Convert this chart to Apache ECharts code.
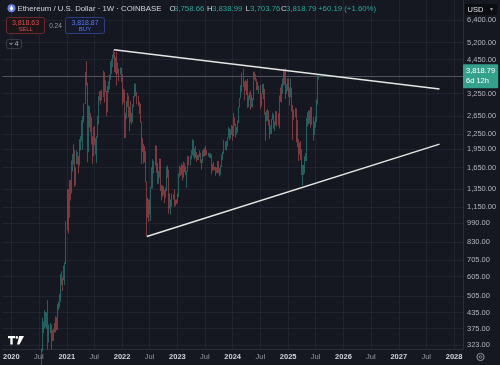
<!DOCTYPE html>
<html><head><meta charset="utf-8">
<script src="https://cdn.jsdelivr.net/npm/echarts@6/dist/echarts.min.js"></script>
<style>html,body{margin:0;padding:0;background:#161821;}#c{width:500px;height:365px;}</style>
</head><body><div id="c"></div>
<script>
// Weekly ETH/USD candles, each row [open, high, low, close], first week starts Mon 2020-06-29
const firstWeek = [2020, 5, 29];
const eth2020 = [
[225,245,223,242],[242,250,236,239],[239,243,229,236],[236,312,235,311],[311,415,305,372],
[372,400,360,394],[394,445,376,433],[433,438,380,388],[388,435,375,428],[428,488,310,353],
[353,390,330,366],[366,395,360,385],[385,390,310,355],[355,370,335,352],[352,375,335,370],
[370,395,363,368],[368,420,362,410],[410,417,370,385],[385,470,370,455],[455,480,445,460],
[460,515,455,510],[510,620,480,590],[590,635,560,595],[595,600,530,590],[590,670,585,640],
[640,690,560,685],[685,1010,680,975]];
const eth2021 = [
[975,1350,925,1265],[1265,1350,900,1230],[1230,1470,1040,1390],[1390,1470,1220,1310],
[1310,1760,1300,1610],[1610,1870,1590,1780],[1780,2040,1700,1935],[1935,1935,1380,1420],
[1420,1650,1400,1720],[1720,1930,1700,1800],[1800,1900,1700,1780],[1780,1830,1560,1690],[1690,2140,1680,2080],
[2080,2200,1930,2140],[2140,2550,2100,2240],[2240,2650,1940,2540],[2540,2980,2500,2950],
[2950,3980,2950,3920],[3920,4380,3500,3590],[3590,3600,1730,2100],[2100,2920,1900,2430],[2430,2900,2380,2710],
[2710,2720,2280,2510],[2510,2620,2040,2160],[2160,2200,1700,1830],[1830,2400,1830,2320],
[2320,2410,2030,2140],[2140,2160,1860,1900],[1900,2200,1720,2190],[2190,2640,2170,2560],
[2560,3180,2450,3160],[3160,3330,3050,3310],[3310,3330,2940,3240],[3240,3370,3060,3230],[3230,4020,3150,3940],
[3940,3960,3000,3410],[3410,3680,3300,3330],[3330,3340,2650,2930],[2930,3490,2740,3390],
[3390,3650,3290,3410],[3410,3880,3390,3850],[3850,4370,3690,4090],[4090,4460,3900,4290],
[4290,4660,4150,4610],[4610,4870,4500,4650],[4650,4770,3970,4240],[4240,4550,3920,4290],[4290,4780,3500,4120],
[4120,4330,3900,4080],[4080,4100,3640,3930],[3930,4140,3880,4070],[4070,4120,3620,3830]];
const eth2022 = [
[3830,3900,2930,3080],[3080,3410,3000,3330],[3330,3360,2160,2410],[2410,2730,2160,2600],[2600,3040,2580,3020],
[3020,3280,2870,2880],[2880,3200,2620,2620],[2620,2890,2300,2620],[2620,3040,2500,2550],
[2550,2730,2450,2570],[2570,2950,2500,2940],[2940,3180,2870,3140],[3140,3580,3140,3520],
[3520,3560,3180,3260],[3260,3310,2950,3060],[3060,3190,2900,2920],[2920,3020,2700,2830],
[2830,2960,2500,2520],[2520,2520,1700,2060],[2060,2160,1900,2050],[2050,2050,1710,1810],[1810,2010,1730,1800],
[1800,1920,1440,1450],[1450,1450,880,1130],[1130,1250,1040,1200],[1200,1230,1000,1070],
[1070,1230,1070,1170],[1170,1380,1010,1360],[1360,1650,1360,1550],[1550,1780,1360,1680],
[1680,1750,1560,1700],[1700,2030,1680,1980],[1980,2010,1570,1580],[1580,1720,1420,1430],[1430,1600,1420,1580],
[1580,1790,1500,1760],[1760,1790,1330,1340],[1340,1400,1220,1290],[1290,1400,1260,1280],
[1280,1390,1280,1320],[1320,1340,1190,1280],[1280,1370,1250,1360],[1360,1660,1330,1590],[1590,1680,1500,1610],
[1610,1620,1080,1220],[1220,1300,1130,1140],[1140,1230,1070,1200],[1200,1300,1150,1240],
[1240,1290,1230,1265],[1265,1350,1150,1180],[1180,1230,1160,1220],[1220,1230,1180,1200]];
const eth2023 = [
[1200,1300,1190,1265],[1265,1560,1260,1550],[1550,1680,1510,1630],[1630,1660,1530,1570],[1570,1710,1540,1630],
[1630,1690,1460,1510],[1510,1740,1500,1690],[1690,1720,1580,1590],[1590,1670,1540,1565],
[1565,1600,1370,1590],[1590,1840,1590,1790],[1790,1830,1680,1750],[1750,1840,1680,1790],
[1790,1940,1780,1860],[1860,2140,1850,2090],[2090,2120,1820,1860],[1860,1960,1780,1870],
[1870,2010,1800,1900],[1900,1900,1740,1800],[1800,1850,1770,1800],[1800,1860,1770,1830],[1830,1930,1820,1890],
[1890,1890,1720,1750],[1750,1780,1620,1720],[1720,1930,1720,1900],[1900,1950,1820,1940],
[1940,1980,1830,1870],[1870,2010,1840,1930],[1930,1940,1850,1860],[1860,1890,1830,1880],[1880,1880,1800,1830],
[1830,1880,1800,1850],[1850,1860,1550,1670],[1670,1700,1600,1650],[1650,1740,1610,1630],
[1630,1660,1610,1620],[1620,1660,1530,1620],[1620,1650,1570,1590],[1590,1750,1560,1730],
[1730,1750,1570,1630],[1630,1640,1520,1560],[1560,1680,1540,1670],[1670,1860,1660,1780],[1780,1910,1770,1890],
[1890,2130,1870,2050],[2050,2100,1940,2010],[2010,2110,1930,2080],[2080,2180,2000,2170],
[2170,2390,2170,2350],[2350,2360,2120,2200],[2200,2340,2150,2270],[2270,2440,2230,2280]];
const eth2024 = [
[2280,2420,2110,2220],[2220,2720,2200,2510],[2510,2610,2420,2450],[2450,2470,2170,2260],[2260,2390,2230,2290],
[2290,2540,2280,2500],[2500,2880,2480,2880],[2880,3130,2860,3110],[3110,3520,3110,3490],
[3490,3950,3300,3900],[3900,4090,3450,3520],[3520,3640,3060,3450],[3450,3680,3350,3650],
[3650,3650,3210,3450],[3450,3730,2850,3000],[3000,3200,2870,3150],[3150,3290,3070,3260],[3260,3350,2810,3120],
[3120,3220,2880,2930],[2930,3120,2860,3070],[3070,3980,3070,3830],[3830,3980,3700,3780],
[3780,3890,3640,3690],[3690,3720,3360,3560],[3560,3620,3360,3420],[3420,3500,3250,3430],
[3430,3520,2820,2930],[2930,3250,2900,3240],[3240,3550,3240,3530],[3530,3560,3090,3270],[3270,3400,2680,2690],
[2690,2740,2110,2560],[2560,2790,2520,2610],[2610,2820,2540,2770],[2770,2780,2420,2430],
[2430,2560,2150,2280],[2280,2430,2250,2320],[2320,2580,2240,2580],[2580,2730,2560,2660],[2660,2680,2360,2440],
[2440,2520,2310,2470],[2470,2770,2440,2750],[2750,2770,2400,2510],[2510,2720,2430,2460],
[2460,3200,2360,3180],[3180,3440,3020,3080],[3080,3550,3000,3360],[3360,3740,3250,3710],
[3710,4090,3500,4000],[4000,4010,3530,3960],[3960,4110,3100,3280],[3280,3550,3250,3360],[3360,3740,3340,3640]];
const eth2025 = [
[3640,3740,3160,3270],[3270,3450,2920,3310],[3310,3740,3150,3330],[3330,3430,2760,2870],
[2870,2930,2120,2630],[2630,2800,2560,2690],[2690,2850,2620,2820],[2820,2840,2080,2520],
[2520,2550,1990,2020],[2020,2140,1750,1930],[1930,2070,1860,1980],[1980,2100,1770,1820],[1820,1950,1540,1570],
[1570,1690,1400,1620],[1620,1690,1540,1590],[1590,1830,1560,1790],[1790,1880,1750,1810],
[1810,2600,1750,2520],[2520,2740,2400,2480],[2480,2790,2450,2530],[2530,2790,2470,2530],
[2530,2880,2380,2510],[2510,2880,2440,2550],[2550,2620,2110,2230],[2230,2520,2230,2500],[2500,2640,2380,2570],
[2570,3080,2510,2950],[2950,3860,2940,3758.66],[3758.66,3838.99,3703.76,3818.79]];

const bidAsk = { sell: 3818.63, buy: 3818.87, spread: 0.24 };
const changeAbs = 60.19, changePct = 1.60;
const priceTicks = [6400,5200,4450,3250,2650,2250,1950,1650,1350,1150,990,830,705,605,505,435,375,323];
const timeTicks = ['2020-01-01','2020-07-01','2021-01-01','2021-07-01','2022-01-01','2022-07-01','2023-01-01','2023-07-01',
  '2024-01-01','2024-07-01','2025-01-01','2025-07-01','2026-01-01','2026-07-01','2027-01-01','2027-07-01','2028-01-01'];
const upperTrend = [['2021-11-08', 4870], ['2027-09-27', 3394]];
const lowerTrend = [['2022-06-13', 875], ['2027-09-27', 2046]];

const toTs = s => { const p = s.split('-').map(Number); return new Date(p[0], p[1]-1, p[2]).getTime(); };
const rows = [].concat(eth2020, eth2021, eth2022, eth2023, eth2024, eth2025);
const candles = rows.map((r, i) => {
  const ts = new Date(firstWeek[0], firstWeek[1], firstWeek[2] + 7 * i).getTime();
  return [ts, r[0], r[3], r[2], r[1]];
});
const last = rows[rows.length - 1];
const fmt = v => Number(v).toLocaleString('en-US', {minimumFractionDigits: 2, maximumFractionDigits: 2});
const timeTickTs = timeTicks.map(toTs);

const FONT = 'Liberation Sans, Arial, sans-serif';
const UP = '#2f9e91', DOWN = '#d2555b';
const chart = echarts.init(document.getElementById('c'), null, {renderer: 'canvas'});
const t = (x, y, text, fill, size, extra) => ({type: 'text', silent: true, z: 100,
  style: {x, y, text, fill, font: (extra && extra.weight ? extra.weight + ' ' : '') + size + 'px ' + FONT,
    align: (extra && extra.align) || 'left', verticalAlign: 'middle'}});

chart.setOption({
  animation: false,
  backgroundColor: '#161821',
  grid: {left: 0, right: 37, top: 0, bottom: 16, show: true, backgroundColor: '#161821', borderWidth: 0},
  xAxis: {
    type: 'value', min: toTs('2019-11-03'), max: toTs('2028-02-29'),
    axisLine: {show: true, lineStyle: {color: '#2a2e39'}},
    axisTick: {show: false, customValues: timeTickTs},
    splitLine: {show: true, lineStyle: {color: '#21242e', width: 1}},
    axisLabel: {
      customValues: timeTickTs, margin: 4, fontSize: 7.5, fontFamily: FONT,
      formatter: v => new Date(v).getMonth() === 0 ? '{y|' + new Date(v).getFullYear() + '}' : '{m|Jul}',
      rich: {y: {fontWeight: 'bold', color: '#d1d4dc', fontSize: 7.5, fontFamily: FONT},
             m: {color: '#9598a1', fontSize: 7.5, fontFamily: FONT}}
    }
  },
  yAxis: {
    type: 'log', logBase: 10, position: 'right', min: 311.3, max: 7691,
    axisLine: {show: true, lineStyle: {color: '#2a2e39'}},
    axisTick: {show: false, customValues: priceTicks},
    splitLine: {show: true, lineStyle: {color: '#21242e', width: 1}},
    axisLabel: {customValues: priceTicks, margin: 4, fontSize: 7.5, fontFamily: FONT, color: '#b2b5be', formatter: v => fmt(v)}
  },
  series: [
    {
      type: 'candlestick', data: candles, barWidth: 1, clip: true,
      itemStyle: {color: UP, color0: DOWN, borderColor: UP, borderColor0: DOWN, borderWidth: 0.6, opacity: 0.9},
      markLine: {
        silent: true, symbol: 'none', animation: false,
        lineStyle: {color: '#50535d', width: 1, type: 'solid'},
        label: {show: true, position: 'end', distance: 0, formatter: fmt(last[3]) + '\n6d 12h',
          backgroundColor: '#35a08c', color: '#ffffff', fontSize: 7.5, fontFamily: FONT, lineHeight: 10,
          padding: [2, 3, 2, 3], borderRadius: 1, align: 'left'},
        data: [{yAxis: last[3]}]
      }
    },
    {type: 'line', data: upperTrend.map(p => [toTs(p[0]), p[1]]), showSymbol: false, symbol: 'none', z: 5,
      lineStyle: {color: '#e6e6e6', width: 1.5}},
    {type: 'line', data: lowerTrend.map(p => [toTs(p[0]), p[1]]), showSymbol: false, symbol: 'none', z: 5,
      lineStyle: {color: '#e6e6e6', width: 1.5}}
  ],
  graphic: [
    {type: 'circle', silent: true, z: 100, shape: {cx: 11.5, cy: 8.3, r: 4}, style: {fill: '#6a82e6'}},
    {type: 'polygon', silent: true, z: 101, shape: {points: [[11.5,5.6],[13.3,8.5],[11.5,11],[9.7,8.5]]}, style: {fill: '#ffffff'}},
    t(17.5, 8.5, 'Ethereum / U.S. Dollar · 1W · COINBASE', '#d1d4dc', 7.8),
    t(169.5, 8.5, 'O', '#d1d4dc', 7.8), t(174, 8.5, fmt(last[0]), '#26a69a', 7.8),
    t(207, 8.5, 'H', '#d1d4dc', 7.8), t(212, 8.5, fmt(last[1]), '#26a69a', 7.8),
    t(245.5, 8.5, 'L', '#d1d4dc', 7.8), t(250, 8.5, fmt(last[2]), '#26a69a', 7.8),
    t(281, 8.5, 'C', '#d1d4dc', 7.8), t(286, 8.5, fmt(last[3]), '#26a69a', 7.8),
    t(318, 8.5, '+' + fmt(changeAbs) + ' (+' + changePct.toFixed(2) + '%)', '#26a69a', 7.8),
    {type: 'rect', silent: true, z: 100, shape: {x: 6.5, y: 17.5, width: 38, height: 16, r: 2}, style: {fill: '#1b1719', stroke: '#6b2a30', lineWidth: 1}},
    t(25.5, 22.8, fmt(bidAsk.sell), '#e0474f', 7, {align: 'center'}),
    t(25.5, 29.5, 'SELL', '#e0474f', 6, {align: 'center'}),
    t(55.5, 26, bidAsk.spread.toFixed(2), '#9598a1', 6.5, {align: 'center'}),
    {type: 'rect', silent: true, z: 100, shape: {x: 65.5, y: 17.5, width: 39, height: 16, r: 2}, style: {fill: '#15192a', stroke: '#2c3f7e', lineWidth: 1}},
    t(85, 22.8, fmt(bidAsk.buy), '#5b7bef', 7, {align: 'center'}),
    t(85, 29.5, 'BUY', '#5b7bef', 6, {align: 'center'}),
    {type: 'rect', silent: true, z: 100, shape: {x: 6.5, y: 39.5, width: 15, height: 9, r: 2}, style: {fill: 'none', stroke: '#363a45', lineWidth: 1}},
    {type: 'polyline', silent: true, z: 101, shape: {points: [[9.5,43],[11,44.5],[12.5,43]]}, style: {stroke: '#b2b5be', lineWidth: 1, fill: 'none'}},
    t(16.5, 44.2, '4', '#b2b5be', 6.5, {align: 'center'}),
    {type: 'rect', silent: true, z: 100, shape: {x: 465, y: 4, width: 32, height: 11, r: 2}, style: {fill: '#0c0d11'}},
    t(467.5, 9.6, 'USD', '#e0e3eb', 7.5),
    t(491.5, 9.6, '▾', '#9598a1', 6, {align: 'center'}),
    {type: 'rect', silent: true, z: 100, shape: {x: 8, y: 336, width: 7, height: 2.2}, style: {fill: '#ffffff'}},
    {type: 'rect', silent: true, z: 100, shape: {x: 10.3, y: 336, width: 2.4, height: 8.5}, style: {fill: '#ffffff'}},
    {type: 'circle', silent: true, z: 100, shape: {cx: 16.8, cy: 337.4, r: 1.3}, style: {fill: '#ffffff'}},
    {type: 'polygon', silent: true, z: 100, shape: {points: [[19.2,336],[24,336],[19.5,344.5],[17,344.5]]}, style: {fill: '#ffffff'}},
    {type: 'circle', silent: true, z: 100, shape: {cx: 480.5, cy: 357, r: 3.6}, style: {fill: 'none', stroke: '#9598a1', lineWidth: 1}},
    {type: 'circle', silent: true, z: 100, shape: {cx: 480.5, cy: 357, r: 1.3}, style: {fill: 'none', stroke: '#9598a1', lineWidth: 0.8}}
  ]
});
</script></body></html>
